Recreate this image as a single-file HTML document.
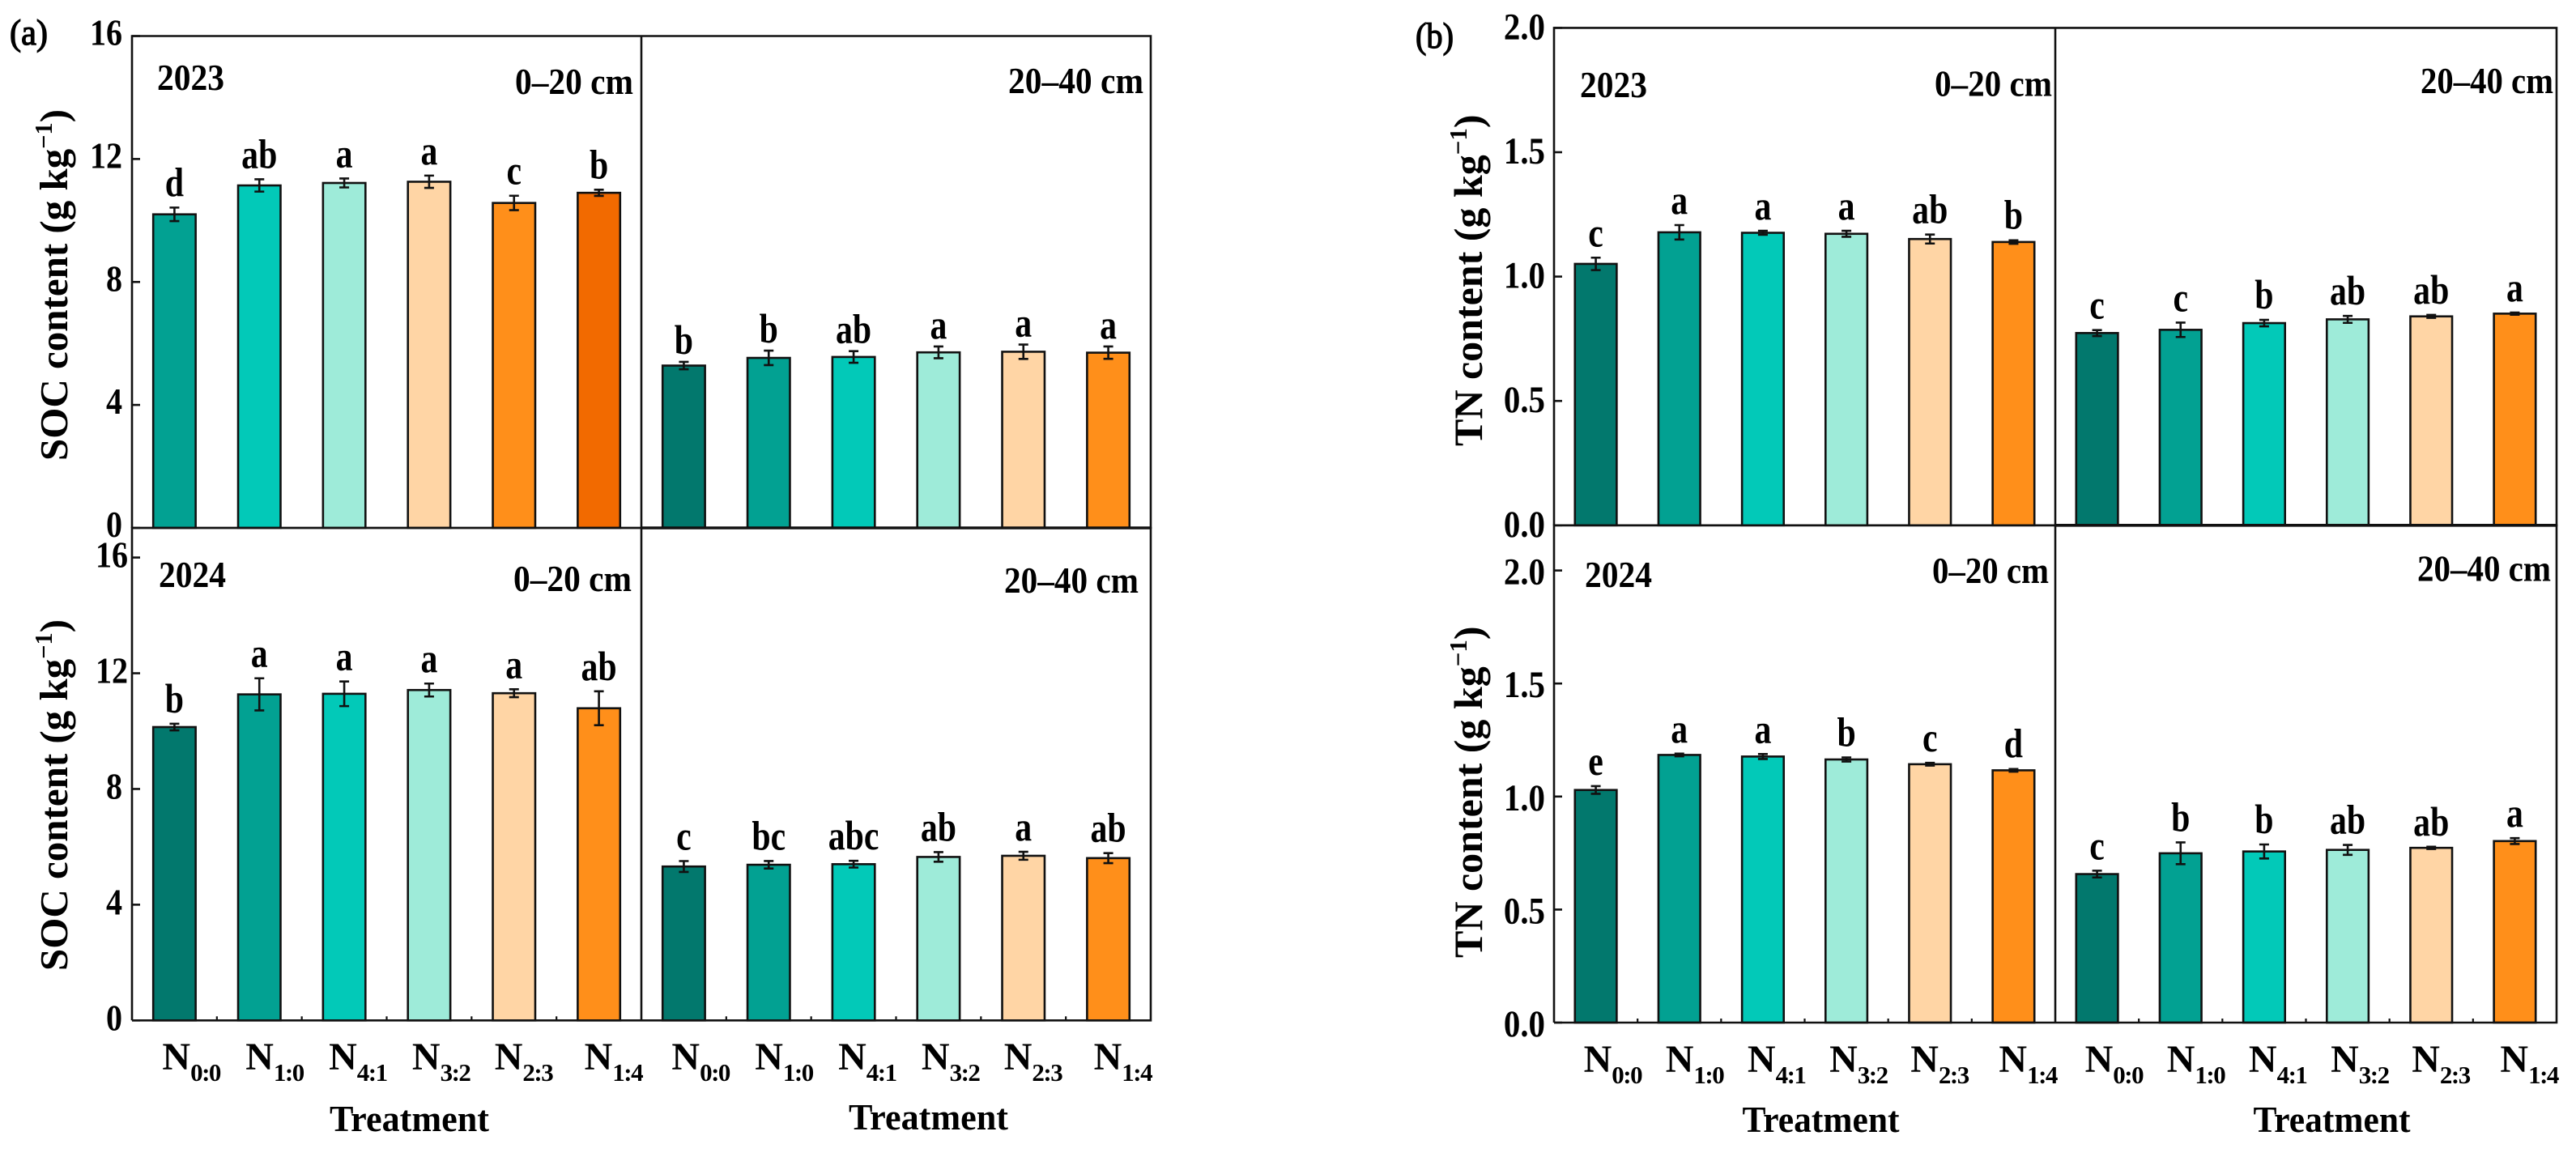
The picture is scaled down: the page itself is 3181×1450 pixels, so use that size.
<!DOCTYPE html>
<html lang="en">
<head>
<meta charset="utf-8">
<title>SOC and TN content by treatment, 2023 and 2024</title>
<style>
html,body{margin:0;padding:0;background:#fff;}
svg{display:block;}
text{font-family:"Liberation Serif",serif;font-weight:bold;fill:#000;}
</style>
</head>
<body>
<svg id="figure" xmlns="http://www.w3.org/2000/svg" width="3181" height="1450" viewBox="0 0 3181 1450"></svg>
<script>
// ---------- data ----------
const categories = ['0:0', '1:0', '4:1', '3:2', '2:3', '1:4'];
const socTicks = [0, 4, 8, 12, 16];
const tnTicks = [0, 0.5, 1.0, 1.5, 2.0];

const soc2023Top = [10.2, 11.14, 11.22, 11.26, 10.57, 10.9];
const soc2023TopErr = [0.22, 0.2, 0.145, 0.2, 0.235, 0.1];
const soc2023TopLetters = ['d', 'ab', 'a', 'a', 'c', 'b'];
const soc2023Sub = [5.28, 5.53, 5.56, 5.71, 5.73, 5.70];
const soc2023SubErr = [0.12, 0.235, 0.19, 0.19, 0.235, 0.2];
const soc2023SubLetters = ['b', 'b', 'ab', 'a', 'a', 'a'];
const soc2024Top = [10.14, 11.27, 11.29, 11.42, 11.31, 10.79];
const soc2024TopErr = [0.115, 0.556, 0.426, 0.224, 0.137, 0.585];
const soc2024TopLetters = ['b', 'a', 'a', 'a', 'a', 'ab'];
const soc2024Sub = [5.32, 5.38, 5.40, 5.65, 5.69, 5.61];
const soc2024SubErr = [0.188, 0.13, 0.116, 0.166, 0.137, 0.173];
const soc2024SubLetters = ['c', 'bc', 'abc', 'ab', 'a', 'ab'];

const tn2023Top = [1.051, 1.178, 1.176, 1.172, 1.151, 1.139];
const tn2023TopErr = [0.025, 0.029, 0.008, 0.012, 0.018, 0.007];
const tn2023TopLetters = ['c', 'a', 'a', 'a', 'ab', 'b'];
const tn2023Sub = [0.773, 0.786, 0.813, 0.828, 0.840, 0.851];
const tn2023SubErr = [0.012, 0.029, 0.013, 0.014, 0.006, 0.0045];
const tn2023SubLetters = ['c', 'c', 'b', 'ab', 'ab', 'a'];
const tn2024Top = [1.029, 1.184, 1.177, 1.164, 1.143, 1.116];
const tn2024TopErr = [0.017, 0.006, 0.011, 0.009, 0.006, 0.006];
const tn2024TopLetters = ['e', 'a', 'a', 'b', 'c', 'd'];
const tn2024Sub = [0.657, 0.749, 0.757, 0.764, 0.773, 0.803];
const tn2024SubErr = [0.015, 0.048, 0.031, 0.022, 0.005, 0.013];
const tn2024SubLetters = ['c', 'b', 'b', 'ab', 'ab', 'a'];

// ---------- palette ----------
const DK = '#02786d', TE = '#02a192', TQ = '#02c9b8', LT = '#9eebd9', PE = '#ffd5a5', OR = '#ff8f1a', DO = '#f26a00';
const paletteShift = [TE, TQ, LT, PE, OR, DO];
const paletteMain = [DK, TE, TQ, LT, PE, OR];
const labelNudge = [-15, -17, -19, -21, -24, -18];

// ---------- layout ----------
const svg = document.getElementById('figure');
const NS = 'http://www.w3.org/2000/svg';
const INK = '#111';

function make(parent, tag, attrs, content) {
  const el = document.createElementNS(NS, tag);
  for (const k in attrs) el.setAttribute(k, attrs[k]);
  if (content !== undefined) el.textContent = content;
  parent.appendChild(el);
  return el;
}
function scaled(x, y, sx, size, anchor) {
  return { transform: 'translate(' + x + ' ' + y + ') scale(' + sx + ' 1)', 'font-size': size, 'text-anchor': anchor };
}

const figures = [
  {
    key: 'soc', title: 'SOC content (g kg', ticks: socTicks, max: 16, digits: 0,
    left: 163, mid: 792, right: 1421, tag: '(a)', tagX: 12, tagY: 55,
    tickSize: 45, tickSx: 0.89, labelRight: 151,
    titleX: 83, titleSize: 49,
    xLabelY: 1321, treatY: [1397, 1395], treatWidth: 197, treatShift: [28, 40],
    rows: [
      { year: '2023', top: 44.5, yMaxPx: 44.5, base: 652, wideRight: 151, tickDy: 11, yearX: 194, yearY: 111,
        titleY: 569, dep1: [636, 782, 116], dep2: [1245, 1412, 115],
        left: { v: soc2023Top, e: soc2023TopErr, l: soc2023TopLetters, p: paletteShift, gap: 14 },
        rightP: { v: soc2023Sub, e: soc2023SubErr, l: soc2023SubLetters, p: paletteMain, gap: 10 } },
      { year: '2024', top: 652, yMaxPx: 688.6, base: 1260.3, wideRight: 158, tickDy: 12, yearX: 196, yearY: 725,
        titleY: 1199, dep1: [634, 780, 730], dep2: [1240, 1406, 732],
        left: { v: soc2024Top, e: soc2024TopErr, l: soc2024TopLetters, p: paletteMain, gap: 14 },
        rightP: { v: soc2024Sub, e: soc2024SubErr, l: soc2024SubLetters, p: paletteMain, gap: 14 } }
    ]
  },
  {
    key: 'tn', title: 'TN content (g kg', ticks: tnTicks, max: 2, digits: 1,
    left: 1919, mid: 2538, right: 3157, tag: '(b)', tagX: 1748, tagY: 59,
    tickSize: 47, tickSx: 0.87, labelRight: 1908,
    titleX: 1830, titleSize: 50,
    xLabelY: 1324, treatY: [1398, 1398], treatWidth: 194, treatShift: [20, 32],
    rows: [
      { year: '2023', top: 34.4, yMaxPx: 34.4, base: 648.8, wideRight: 1908, tickDy: 14, yearX: 1951, yearY: 120,
        titleY: 551, dep1: [2389, 2534, 118.5], dep2: [2989, 3153, 115],
        left: { v: tn2023Top, e: tn2023TopErr, l: tn2023TopLetters, p: paletteMain, gap: 14 },
        rightP: { v: tn2023Sub, e: tn2023SubErr, l: tn2023SubLetters, p: paletteMain, gap: 14 } },
      { year: '2024', top: 648.8, yMaxPx: 704.6, base: 1263, wideRight: 1908, tickDy: 17, yearX: 1957, yearY: 725,
        titleY: 1183, dep1: [2386, 2530, 720], dep2: [2985, 3150, 717.5],
        left: { v: tn2024Top, e: tn2024TopErr, l: tn2024TopLetters, p: paletteMain, gap: 14 },
        rightP: { v: tn2024Sub, e: tn2024SubErr, l: tn2024SubLetters, p: paletteMain, gap: 14 } }
    ]
  }
];

function xBand(x0, x1) {
  const band = (x1 - x0) / categories.length;
  return { band: band, center: function (i) { return x0 + (i + 0.5) * band; } };
}
function yAxis(row, max) {
  return function (v) { return row.base - (v / max) * (row.base - row.yMaxPx); };
}

function drawSeries(parent, series, x, y, id) {
  const g = make(parent, 'g', {});
  
  
  series.v.forEach(function (value, i) {
    const cx = x.center(i), w = x.band / 2, err = series.e[i], top = y(value);
    const cat = categories[i].replace(':', '-');
    const bar = make(g, 'rect', { x: cx - w / 2, y: top, width: w, height: y(0) - top, fill: series.p[i], stroke: INK, 'stroke-width': 2.6 });
    
    
    const hi = y(value + err), lo = y(value - err);
    const eb = make(g, 'path', { d: 'M' + cx + ' ' + hi + 'V' + lo + 'M' + (cx - 6) + ' ' + hi + 'H' + (cx + 6) + 'M' + (cx - 6) + ' ' + lo + 'H' + (cx + 6), fill: 'none', stroke: INK, 'stroke-width': 2.6 });
    
    
    const letter = make(g, 'text', scaled(cx, hi - series.gap, 0.82, 51, 'middle'), series.l[i]);
    
    
  });
}

function fitted(parent, str, span, size) {
  return make(parent, 'text', { x: span[0], y: span[2], 'font-size': size, textLength: span[1] - span[0], lengthAdjust: 'spacingAndGlyphs' }, str);
}

figures.forEach(function (fig) {
  const root = make(svg, 'g', {});
  
  

  const tag = make(root, 'text', { x: fig.tagX, y: fig.tagY, 'font-size': 44, textLength: 47, lengthAdjust: 'spacingAndGlyphs', style: 'font-weight:normal', stroke: '#000', 'stroke-width': 1.3 }, fig.tag);
  
  

  const xLeft = xBand(fig.left, fig.mid);
  const xRight = xBand(fig.mid, fig.right);

  fig.rows.forEach(function (row, r) {
    const id = fig.key + '-' + row.year;
    const y = yAxis(row, fig.max);
    drawSeries(root, row.left, xLeft, y, id + '-0-20cm');
    drawSeries(root, row.rightP, xRight, y, id + '-20-40cm');

    // frame
    const frame = make(root, 'path', {
      d: 'M' + fig.left + ' ' + row.base + 'V' + row.top + 'H' + fig.right + 'V' + row.base + 'H' + fig.left +
         'M' + fig.mid + ' ' + row.top + 'V' + row.base,
      fill: 'none', stroke: INK, 'stroke-width': 2.6
    });
    
    

    if (r === 0) {
      const baseLine = make(root, 'line', { x1: fig.mid, x2: fig.right + 1, y1: row.base, y2: row.base, stroke: INK, 'stroke-width': 3.6 });
      
      
    }

    // y ticks and labels
    fig.ticks.forEach(function (t) {
      const py = y(t);
      const mark = make(root, 'line', { x1: fig.left, x2: fig.left + 10, y1: py, y2: py, stroke: INK, 'stroke-width': 2.6 });
      
      
      const wide = fig.digits === 0 && t >= 10;
      const lbl = make(root, 'text', scaled(wide ? row.wideRight : fig.labelRight, py + row.tickDy, fig.tickSx, fig.tickSize, 'end'), t.toFixed(fig.digits));
      
      
    });

    // y title
    const title = make(root, 'text', { transform: 'translate(' + fig.titleX + ' ' + row.titleY + ') rotate(-90)', 'font-size': fig.titleSize });
    
    
    make(title, 'tspan', {}, fig.title);
    make(title, 'tspan', { dy: -19, 'font-size': fig.titleSize * 0.62 }, '\u22121');
    make(title, 'tspan', { dy: 19 }, ')');

    // annotations
    const yr = make(root, 'text', { x: row.yearX, y: row.yearY, 'font-size': 46, textLength: 83, lengthAdjust: 'spacingAndGlyphs' }, row.year);
    
    
    const d1 = fitted(root, '0\u201320 cm', row.dep1, 46);
    
    
    const d2 = fitted(root, '20\u201340 cm', row.dep2, 46);
    
    

    if (r === 1) {
      [xLeft, xRight].forEach(function (x, side) {
        categories.forEach(function (cat, i) {
          if (i < categories.length - 1) {
            const px = x.center(i) + x.band / 2;
            const tick = make(root, 'line', { x1: px, x2: px, y1: row.base, y2: row.base - 5, stroke: INK, 'stroke-width': 2.2 });
            
            
          }
          const lab = make(root, 'text', { x: x.center(i) + labelNudge[i], y: fig.xLabelY, 'font-size': 48 });
          
          
          make(lab, 'tspan', { }, 'N');
          make(lab, 'tspan', { dy: 14, 'font-size': 31, 'letter-spacing': -1.5 }, cat);
        });
        const cx = (side === 0 ? (fig.left + fig.mid) / 2 : (fig.mid + fig.right) / 2) + fig.treatShift[side];
        const tr = make(root, 'text', { x: cx - fig.treatWidth / 2, y: fig.treatY[side], 'font-size': 46, textLength: fig.treatWidth, lengthAdjust: 'spacingAndGlyphs' }, 'Treatment');
        
        
      });
    }
  });
});
</script>
</body>
</html>
